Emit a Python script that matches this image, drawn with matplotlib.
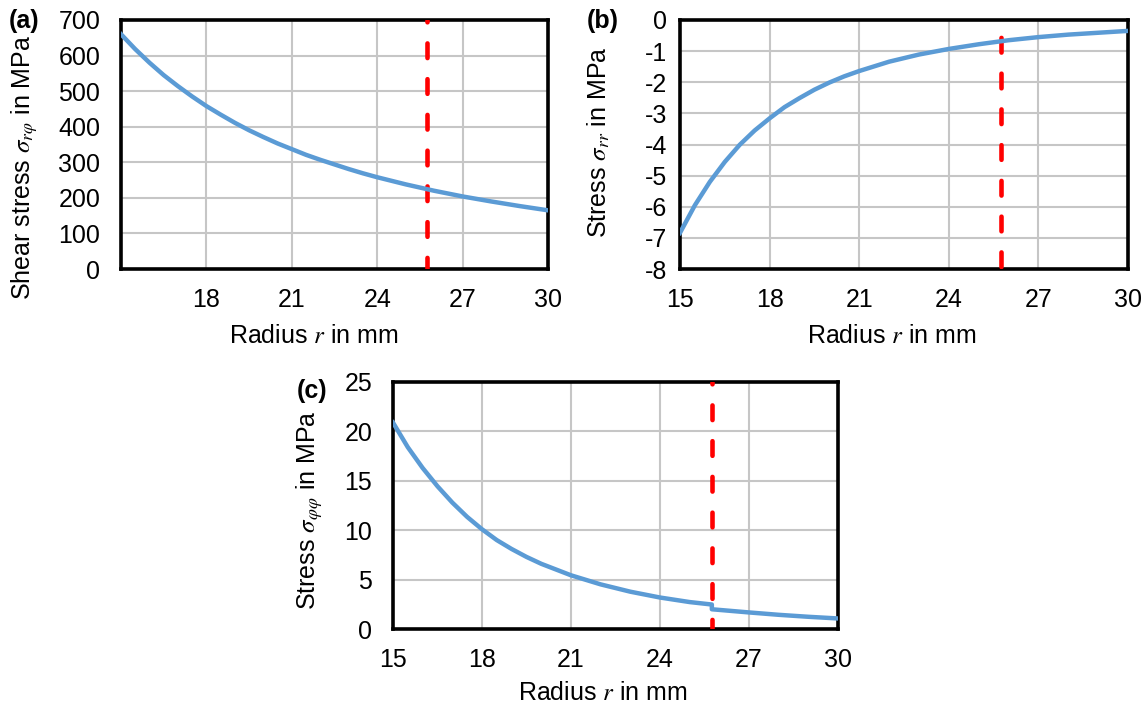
import matplotlib
matplotlib.use('Agg')
import matplotlib.pyplot as plt

plt.rcParams['font.family'] = ['Liberation Sans', 'DejaVu Sans']
plt.rcParams['mathtext.fontset'] = 'stix'

# (a) shear stress sigma_r_phi in MPa over radius in mm
r_a = [15, 15.5, 16, 16.5, 17, 17.5, 18, 18.5, 19, 19.5, 20, 20.5, 21, 21.5, 22,
       22.5, 23, 23.5, 24, 25, 26, 27, 28, 29, 30]
tau_rphi = [660, 618, 580, 545, 514, 485, 458, 434, 411, 390, 371, 353, 337, 321, 307,
            294, 281, 269, 258, 238, 220, 204, 190, 177, 165]

# (b) radial stress sigma_rr in MPa
r_b = [15, 15.5, 16, 16.5, 17, 17.5, 18, 18.5, 19, 19.5, 20, 20.5, 21, 22, 23, 24,
       25, 26, 27, 28, 29, 30]
sig_rr = [-6.84, -5.95, -5.2, -4.56, -4.01, -3.55, -3.16, -2.8, -2.51, -2.24, -2.01,
          -1.81, -1.64, -1.34, -1.11, -0.93, -0.78, -0.65, -0.55, -0.47, -0.41, -0.35]

# (c) hoop stress sigma_phiphi in MPa (jump at the interface)
r_c = [15, 15.5, 16, 16.5, 17, 17.5, 18, 18.5, 19, 19.5, 20, 21, 22, 23, 24, 25,
       25.75, 25.75, 27, 28, 29, 30]
sig_pp = [20.9, 18.4, 16.3, 14.45, 12.8, 11.35, 10.1, 9.0, 8.1, 7.3, 6.6, 5.44, 4.52,
          3.78, 3.19, 2.73, 2.48, 2.0, 1.68, 1.44, 1.24, 1.07]

r_interface = 25.75

blue = '#5b9bd5'
red = '#ff0000'
fs = 18

fig = plt.figure(figsize=(11.48, 7.14), dpi=100)
ax_a = fig.add_axes([0.1054, 0.6232, 0.3720, 0.3488])
ax_b = fig.add_axes([0.5923, 0.6232, 0.3903, 0.3488])
ax_c = fig.add_axes([0.3423, 0.1190, 0.3876, 0.3460])


def style(ax, xticks, yticks, ylim, ypad=15):
    ax.set_xlim(15, 30)
    ax.set_ylim(*ylim)
    ax.set_xticks(xticks)
    ax.set_yticks(yticks)
    ax.tick_params(length=0, labelsize=fs)
    ax.tick_params(axis='y', pad=ypad)
    ax.tick_params(axis='x', pad=14)
    ax.grid(True, color='#c6c6c6', linewidth=1.5)
    ax.set_axisbelow(True)
    for s in ax.spines.values():
        s.set_linewidth(2.6)
        s.set_color('black')


def dashed(ax, ytop, ybot, offset=0):
    ax.plot([r_interface, r_interface], [ytop, ybot], color=red, lw=3.3,
            dash_capstyle='round', linestyle=(offset, (3.2, 4.6)), zorder=3)


# (a)
ax_a.plot(r_a, tau_rphi, color=blue, lw=3.2, zorder=4)
style(ax_a, [18, 21, 24, 27, 30], range(0, 701, 100), (0, 700))
dashed(ax_a, 700, 0, offset=2.8)
ax_a.set_ylabel(r'Shear stress $\sigma_{r\varphi}$ in MPa', fontsize=fs)
ax_a.yaxis.set_label_coords(-0.19, 0.41)
ax_a.set_xlabel(r'Radius $r$ in mm', fontsize=fs)
ax_a.xaxis.set_label_coords(0.452, -0.222)

# (b)
ax_b.plot(r_b, sig_rr, color=blue, lw=3.2, zorder=4)
style(ax_b, [15, 18, 21, 24, 27, 30], range(-8, 1), (-8, 0), ypad=9)
dashed(ax_b, 0, -8, offset=4.0)
ax_b.set_yticklabels([str(v) for v in range(-8, 1)])
ax_b.set_ylabel(r'Stress $\sigma_{rr}$ in MPa', fontsize=fs)
ax_b.yaxis.set_label_coords(-0.152, 0.51)
ax_b.set_xlabel(r'Radius $r$ in mm', fontsize=fs)
ax_b.xaxis.set_label_coords(0.473, -0.222)

# (c)
ax_c.plot(r_c, sig_pp, color=blue, lw=3.2, zorder=4)
style(ax_c, [15, 18, 21, 24, 27, 30], range(0, 26, 5), (0, 25))
dashed(ax_c, 25, 0, offset=2.8)
ax_c.set_ylabel(r'Stress $\sigma_{\varphi\varphi}$ in MPa', fontsize=fs)
ax_c.yaxis.set_label_coords(-0.152, 0.482)
ax_c.set_xlabel(r'Radius $r$ in mm', fontsize=fs)
ax_c.xaxis.set_label_coords(0.472, -0.212)

# panel letters
fig.text(24 / 1148, 1 - 21 / 714, '(a)', fontsize=18, fontweight='bold', ha='center', va='center')
fig.text(603 / 1148, 1 - 21 / 714, '(b)', fontsize=18, fontweight='bold', ha='center', va='center')
fig.text(312 / 1148, 1 - 391 / 714, '(c)', fontsize=18, fontweight='bold', ha='center', va='center')

fig.savefig('out.png', dpi=100)
